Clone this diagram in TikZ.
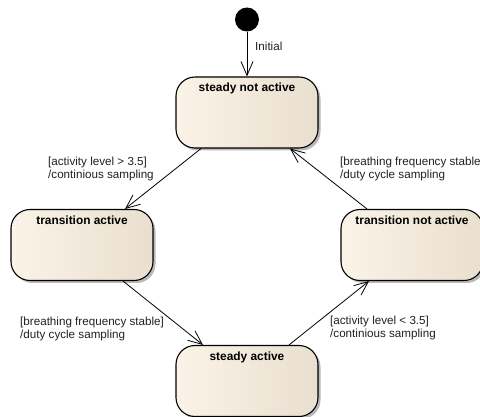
\documentclass[tikz,border=0pt]{standalone}
\usepackage{fontspec}
\setmainfont{Liberation Sans}
\usetikzlibrary{arrows.meta,shadows}
\definecolor{stateL}{HTML}{FBF3E7}
\definecolor{stateR}{HTML}{E8DFCF}
\definecolor{labelgray}{HTML}{222222}
\begin{document}
\begin{tikzpicture}[x=1pt,y=-1pt,
  state/.style={draw=black, line width=1.1pt, rounded corners=19pt,
    minimum width=142pt, inner xsep=4pt, inner ysep=5pt,
    text height=10pt, text depth=51pt,
    font=\fontsize{11.9}{13}\selectfont\bfseries,
    left color=stateL, right color=stateR,
    drop shadow={shadow xshift=2.5pt, shadow yshift=-2.5pt, fill=black!50, opacity=0.55}},
  trans/.style={draw=black, line width=0.8pt,
    -{Straight Barb[length=14pt,width=12pt,line width=0.8pt]}},
  guard/.style={anchor=north west, inner sep=0pt, align=left, text=labelgray,
    font=\fontsize{11.65}{12.5}\selectfont},
  initial/.style={circle, fill=black, minimum size=24pt, inner sep=0pt}
]
\fill[white] (0,0) rectangle (480,417);
\useasboundingbox (0,0) rectangle (480,417);

% states
\node[initial] (init) at (247,19.5) {};
\node[state] (SNA) at (247,112.5) {steady not active};
\node[state] (TA)  at (82,245) {transition active};
\node[state] (TNA) at (412,245) {transition not active};
\node[state] (SA)  at (247,381) {steady active};

% transitions
\draw[trans] (init) -- (SNA);
\draw[trans] ([xshift=-46pt]SNA.south) -- ([xshift=43pt]TA.north);
\draw[trans] ([xshift=-45pt]TNA.north) -- ([xshift=43pt]SNA.south);
\draw[trans] ([xshift=41pt]TA.south) -- ([xshift=-44pt]SA.north);
\draw[trans] ([xshift=42pt]SA.north) -- ([xshift=-43pt]TNA.south);

% transition labels
\node[guard, anchor=west] (lInit) at (255,46) {Initial};
\node[guard] (l1) at (48,157) {[activity level > 3.5]\\/continious sampling};
\node[guard] (l2) at (340,157) {[breathing frequency stable]\\/duty cycle sampling};
\node[guard] (l3) at (20,317) {[breathing frequency stable]\\/duty cycle sampling};
\node[guard] (l4) at (330,316) {[activity level < 3.5]\\/continious sampling};
\end{tikzpicture}
\end{document}
